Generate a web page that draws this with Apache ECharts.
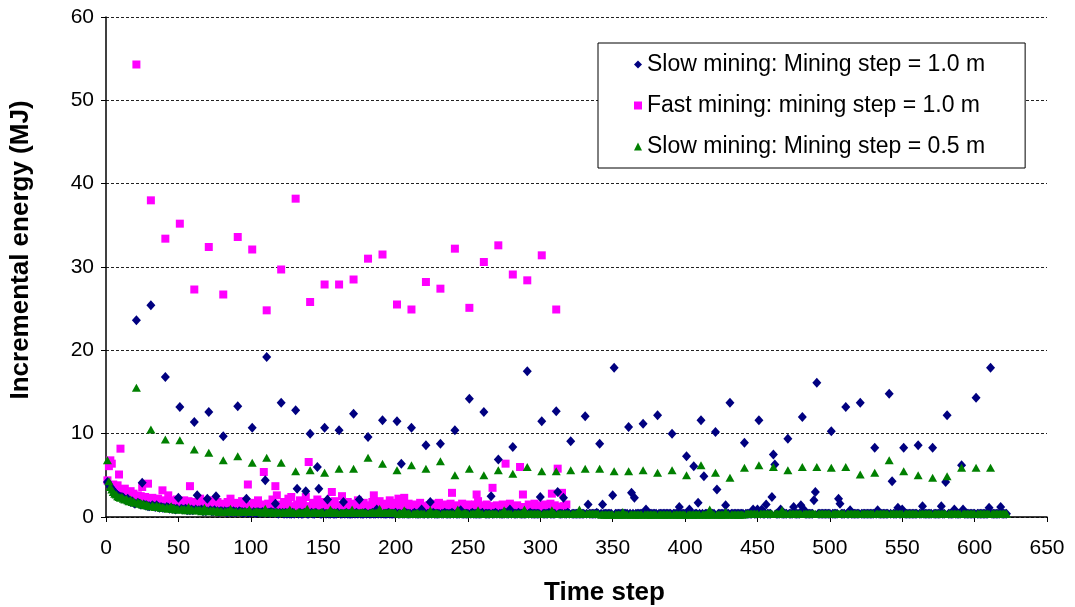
<!DOCTYPE html>
<html>
<head>
<meta charset="utf-8">
<title>Incremental energy per time step</title>
<script src="https://cdn.jsdelivr.net/npm/echarts@6/dist/echarts.min.js"></script>
<style>
  html, body { margin: 0; padding: 0; background: #fff; }
  #chart { width: 1075px; height: 607px; }
</style>
</head>
<body>
<div id="chart"></div>
<script>
// Incremental energy (MJ) at each time step, starting from step 1.
const seriesNames = [
  'Slow mining: Mining step = 1.0 m',
  'Fast mining: mining step = 1.0 m',
  'Slow mining: Mining step = 0.5 m'
];

const slowStep10 = [
  4.2,3.9,3.6,3.4,3.1,2.9,2.8,2.6,2.5,2.4,
  2.4,2.3,2.1,2.0,2.2,1.9,1.8,1.9,1.7,1.6,
  23.6,1.7,1.6,1.5,4.1,1.5,1.4,1.4,1.3,1.3,
  25.4,1.4,1.3,1.2,1.4,1.2,1.1,1.2,1.1,1.1,
  16.8,1.2,1.1,1.0,1.1,1.0,1.0,0.9,1.0,2.3,
  13.2,1.0,0.9,0.9,1.0,0.8,0.9,0.8,0.9,0.8,
  11.4,0.9,2.6,0.8,0.8,0.9,0.7,0.8,0.7,2.2,
  12.6,0.8,0.7,0.7,0.8,2.5,0.7,0.6,0.7,0.7,
  9.7,0.7,0.6,0.6,0.7,0.6,0.6,0.7,0.6,0.6,
  13.3,0.7,0.6,0.6,0.5,0.6,2.2,0.5,0.6,0.5,
  10.7,0.6,0.5,0.5,0.6,0.5,0.5,0.6,0.5,4.4,
  19.2,0.5,0.5,0.6,0.5,0.5,1.6,0.5,0.4,0.5,
  13.7,0.5,0.4,0.5,0.4,0.5,0.4,0.4,0.5,0.4,
  12.8,3.4,0.4,0.5,0.4,0.4,0.5,3.1,0.4,0.4,
  10.0,0.5,0.4,0.4,0.5,6.0,3.4,0.4,0.4,0.5,
  10.7,0.4,2.1,0.4,0.4,0.5,0.4,0.4,0.4,0.5,
  10.4,0.4,0.4,1.8,0.4,0.5,0.4,0.4,0.4,0.4,
  12.4,0.4,0.5,0.4,2.1,0.4,0.4,0.4,0.5,0.4,
  9.6,0.4,0.4,0.5,0.4,0.4,0.9,0.4,0.5,0.4,
  11.6,0.4,0.4,0.4,0.5,0.4,0.4,0.4,0.4,0.5,
  11.5,0.4,0.4,6.4,0.4,0.4,0.5,0.4,0.4,0.4,
  10.7,0.4,0.5,0.4,0.4,0.4,0.4,0.9,0.4,0.4,
  8.6,0.4,0.4,1.8,0.4,0.5,0.4,0.4,0.4,0.4,
  8.8,0.4,0.4,0.5,0.4,0.4,0.4,0.4,0.5,0.4,
  10.4,0.4,0.4,0.4,0.8,0.4,0.4,0.4,0.4,0.4,
  14.2,0.4,0.5,0.4,0.4,0.4,0.4,0.4,0.4,0.5,
  12.6,0.4,0.4,0.4,0.4,2.5,0.4,0.4,0.5,0.4,
  6.9,0.4,0.4,0.4,0.4,0.5,0.4,0.4,0.9,0.4,
  8.4,0.4,0.4,0.4,0.5,0.4,0.4,0.4,0.4,0.4,
  17.5,0.4,0.5,0.4,0.4,0.4,0.4,0.4,0.4,2.4,
  11.5,0.4,0.4,0.4,0.4,0.5,0.4,0.4,0.4,0.4,
  12.7,3.0,0.4,0.4,0.4,2.3,0.4,0.4,0.5,0.4,
  9.1,0.4,0.4,0.4,0.4,0.4,0.4,0.4,0.4,0.4,
  12.1,0.4,1.5,0.4,0.4,0.4,0.4,0.4,0.5,0.4,
  8.8,0.4,1.5,0.4,0.4,0.4,0.4,0.4,0.4,2.6,
  17.9,0.4,0.4,0.4,0.4,0.4,0.4,0.4,0.4,0.4,
  10.8,0.4,2.9,0.4,2.3,0.4,0.4,0.4,0.4,0.4,
  11.2,0.4,0.9,0.4,0.4,0.4,0.4,0.4,0.4,0.4,
  12.2,0.4,0.4,0.4,0.4,0.4,0.4,0.4,0.4,0.4,
  10.0,0.4,0.4,0.4,0.4,1.2,0.4,0.4,0.4,0.4,
  7.3,0.4,0.9,0.4,0.4,6.1,0.4,0.4,1.7,0.4,
  11.6,0.4,4.9,0.4,0.4,0.4,0.4,0.4,0.4,0.4,
  10.2,3.3,0.4,0.4,0.4,0.4,0.4,1.4,0.4,0.4,
  13.7,0.4,0.4,0.4,0.4,0.4,0.4,0.4,0.4,0.4,
  8.9,0.4,0.4,0.4,0.4,0.4,0.9,0.4,0.4,0.9,
  11.6,0.4,0.9,0.4,0.4,1.5,0.4,0.4,0.4,2.4,
  7.5,6.3,0.4,0.4,0.4,0.9,0.4,0.4,0.4,0.4,
  9.4,0.4,0.4,0.4,1.2,0.4,0.4,0.4,0.4,1.4,
  12.0,0.9,0.4,0.4,0.4,0.4,0.4,0.4,2.0,3.0,
  16.1,0.4,0.4,0.4,0.4,0.4,0.4,0.4,0.4,0.4,
  10.3,0.4,0.4,0.4,0.4,2.2,1.6,0.4,0.4,0.4,
  13.2,0.4,0.4,0.8,0.4,0.4,0.4,0.4,0.4,0.4,
  13.7,0.4,0.4,0.4,0.4,0.4,0.4,0.4,0.4,0.4,
  8.3,0.4,0.8,0.4,0.4,0.4,0.4,0.4,0.4,0.4,
  14.8,0.4,4.3,0.4,0.4,0.4,1.1,0.4,0.4,0.9,
  8.3,0.4,0.4,0.4,0.4,0.4,0.4,0.4,0.4,0.4,
  8.6,0.4,0.4,1.3,0.4,0.4,0.4,0.4,0.4,0.4,
  8.3,0.4,0.4,0.4,0.4,0.4,1.3,0.4,0.4,4.2,
  12.2,0.4,0.4,0.4,0.4,0.9,0.4,0.4,0.4,0.4,
  6.2,0.9,0.4,0.4,0.4,0.4,0.4,0.4,0.4,0.4,
  14.3,0.4,0.4,0.4,0.4,0.4,0.4,0.4,0.4,1.1,
  17.9,0.4,0.4,0.4,0.4,0.4,0.4,1.2,0.4,0.4,
  0.4,0.4
];

const fastStep10 = [
  4.4,6.1,6.8,6.4,3.9,3.6,3.3,3.8,5.1,8.2,
  3.2,2.9,3.4,2.7,3.0,2.6,3.1,2.4,2.8,2.3,
  54.3,2.6,2.2,2.5,3.6,2.1,2.4,2.0,4.0,2.2,
  38.0,2.3,1.9,2.1,1.8,2.2,1.7,2.0,3.2,1.8,
  33.4,1.9,2.6,1.7,2.0,1.6,1.9,1.5,2.1,1.6,
  35.2,1.8,1.5,2.0,1.4,1.7,1.9,3.7,1.5,1.6,
  27.3,1.8,1.4,1.6,2.2,1.3,1.7,1.5,1.9,1.3,
  32.4,1.6,1.3,2.0,1.2,1.5,1.8,1.2,1.6,1.3,
  26.7,1.5,1.2,1.8,1.1,2.2,1.4,1.1,1.7,1.3,
  33.6,1.5,1.1,1.9,1.0,1.6,1.2,3.9,1.4,1.0,
  32.1,1.7,1.0,1.3,2.0,1.1,1.5,1.0,5.4,1.2,
  24.8,1.6,1.0,1.4,2.1,1.0,3.7,2.6,1.2,1.5,
  29.7,1.0,1.8,1.1,1.4,2.2,1.0,2.4,1.3,1.1,
  38.2,1.5,1.0,2.0,1.2,1.6,1.0,2.4,1.3,6.6,
  25.8,1.0,1.7,1.2,1.4,2.1,1.0,1.5,1.1,1.8,
  27.9,1.2,1.0,1.6,1.3,3.0,1.0,1.9,1.2,1.4,
  27.9,1.1,2.5,1.0,1.5,1.2,1.8,1.0,1.4,1.1,
  28.5,1.6,1.0,2.0,1.2,1.4,1.0,1.7,1.2,1.0,
  31.0,1.4,1.1,1.8,2.6,1.0,1.5,1.2,1.9,1.0,
  31.5,1.3,1.0,1.6,1.2,2.0,1.0,1.4,1.1,1.7,
  25.5,2.2,1.0,1.3,1.5,2.3,1.0,1.2,1.6,1.0,
  24.9,1.3,1.0,1.5,1.1,1.4,1.7,1.0,1.3,1.2,
  28.2,1.0,1.4,1.1,1.6,1.0,1.3,1.5,1.0,1.7,
  27.4,1.2,1.0,1.5,1.1,1.3,1.0,1.6,2.9,1.1,
  32.2,1.0,1.4,1.2,1.0,1.6,1.1,1.3,1.0,1.5,
  25.1,1.0,1.3,1.1,1.5,2.7,1.9,1.0,1.4,1.2,
  30.6,1.0,1.5,1.1,1.3,1.0,3.5,1.2,1.0,1.4,
  32.6,1.2,1.0,1.5,1.1,6.4,1.0,1.3,1.6,1.0,
  29.1,1.3,1.0,1.4,1.1,6.0,1.0,2.7,1.2,1.0,
  28.4,1.5,1.0,1.3,1.1,1.6,1.0,1.2,1.4,1.0,
  31.4,1.1,1.5,1.0,1.3,1.2,1.6,2.8,1.0,1.4,
  24.9,5.8,1.0,1.2,2.9,1.3,1.0,1.5
];

const slowStep05 = [
  6.8,4.3,3.6,3.3,3.0,2.8,2.7,2.5,2.4,2.3,
  2.4,2.2,2.1,2.2,2.0,1.9,2.1,1.8,1.9,1.7,
  15.5,1.8,1.6,1.7,1.5,1.6,1.4,1.5,1.4,1.3,
  10.5,1.4,1.3,1.2,1.4,1.2,1.3,1.1,1.2,1.1,
  9.3,1.2,1.0,1.1,1.3,1.0,1.1,0.9,1.0,0.9,
  9.2,1.0,0.9,1.0,0.8,0.9,1.2,0.8,0.9,0.8,
  8.1,0.9,0.8,0.8,0.9,0.7,0.8,1.1,0.7,0.8,
  7.7,0.8,0.7,0.8,0.7,0.7,0.8,0.6,0.7,0.7,
  6.8,0.7,0.6,0.7,0.6,1.0,0.7,0.6,0.6,0.7,
  7.3,0.6,0.7,0.6,0.6,0.7,0.6,0.6,0.9,0.6,
  6.5,0.6,0.6,0.7,0.6,0.6,0.6,0.5,0.6,1.0,
  7.1,0.6,0.5,0.6,0.6,0.5,0.6,0.6,0.5,0.6,
  6.5,0.6,0.5,0.5,0.6,0.5,0.9,0.5,0.5,0.6,
  5.5,0.5,0.6,0.5,0.5,0.5,0.6,0.5,1.0,0.5,
  5.6,0.5,0.5,0.6,0.5,0.5,0.5,0.5,0.6,0.5,
  5.3,0.5,0.5,0.5,0.9,0.5,0.5,0.6,0.5,0.5,
  5.8,0.5,0.5,0.5,0.5,0.6,0.5,0.5,0.5,0.9,
  5.8,0.5,0.5,0.5,0.5,0.5,0.6,0.5,0.5,0.5,
  7.1,0.5,0.5,0.6,0.5,0.5,0.5,0.5,1.0,0.5,
  6.4,0.5,0.5,0.5,0.5,0.6,0.5,0.5,0.5,0.5,
  5.6,0.4,0.5,0.4,0.4,0.8,0.4,0.4,0.5,0.4,
  6.2,0.4,0.4,0.4,0.5,0.4,0.4,0.4,0.4,0.4,
  5.8,0.4,0.4,0.8,0.4,0.4,0.4,0.5,0.4,0.4,
  6.7,0.4,0.4,0.4,0.4,0.4,0.4,0.4,0.4,0.4,
  5.0,0.4,0.9,0.4,0.4,0.4,0.4,0.5,0.4,0.4,
  5.8,0.4,0.4,0.4,0.4,0.4,0.8,0.4,0.4,0.4,
  5.0,0.4,0.4,0.4,0.4,0.4,0.4,0.4,0.4,0.4,
  5.6,0.4,0.4,0.4,0.8,0.4,0.4,0.4,0.4,0.4,
  5.2,0.4,0.4,0.4,0.4,0.4,0.4,0.4,0.9,0.4,
  6.0,0.4,0.4,0.4,0.4,0.4,0.4,0.4,0.4,0.4,
  5.5,0.4,0.4,0.4,0.4,0.4,0.4,0.8,0.4,0.4,
  5.5,0.4,0.4,0.4,0.4,0.4,0.4,0.4,0.4,0.4,
  5.6,0.4,0.4,0.4,0.4,0.4,0.9,0.4,0.4,0.4,
  5.8,0.4,0.4,0.4,0.4,0.4,0.4,0.4,0.4,0.4,
  5.8,0.3,0.3,0.3,0.3,0.3,0.3,0.3,0.3,0.3,
  5.5,0.3,0.3,0.3,0.3,0.3,0.6,0.3,0.3,0.3,
  5.5,0.3,0.3,0.3,0.3,0.3,0.3,0.3,0.3,0.3,
  5.6,0.3,0.3,0.3,0.3,0.3,0.3,0.3,0.3,0.3,
  5.3,0.3,0.3,0.3,0.3,0.3,0.3,0.3,0.3,0.3,
  5.6,0.3,0.3,0.3,0.3,0.3,0.3,0.3,0.3,0.3,
  5.0,0.3,0.3,0.3,0.3,0.3,0.3,0.3,0.3,0.3,
  6.2,0.3,0.3,0.3,0.3,0.3,0.9,0.3,0.3,0.3,
  5.3,0.3,0.3,0.3,0.3,0.3,0.3,0.6,0.3,0.3,
  4.7,0.3,0.3,0.3,0.3,0.3,0.3,0.3,0.3,0.3,
  5.9,0.4,0.4,0.4,0.4,0.4,0.4,0.4,0.4,0.4,
  6.2,0.4,0.4,0.4,0.4,0.4,0.4,0.4,0.4,0.4,
  6.0,0.4,0.4,0.4,0.4,0.4,0.8,0.4,0.4,0.4,
  5.6,0.4,0.4,0.4,0.4,0.4,0.4,0.4,0.4,0.4,
  6.0,0.4,0.4,0.4,0.4,0.4,0.4,0.4,0.4,0.4,
  6.0,0.4,0.4,0.4,0.4,0.4,0.4,0.4,0.4,0.4,
  5.9,0.4,0.4,0.4,0.4,0.4,0.4,0.4,0.4,0.4,
  6.0,0.4,0.4,0.4,0.4,0.4,0.4,0.4,0.4,0.4,
  5.1,0.4,0.4,0.4,0.4,0.4,0.4,0.4,0.4,0.4,
  5.3,0.4,0.4,0.4,0.4,0.4,0.4,0.4,0.4,0.4,
  6.8,0.4,0.4,0.4,0.4,0.4,0.4,0.4,0.4,0.4,
  5.5,0.4,0.4,0.4,0.4,0.4,0.4,0.4,0.4,0.4,
  5.0,0.4,0.4,0.4,0.4,0.4,0.4,0.4,0.4,0.4,
  4.7,0.4,0.4,0.4,0.4,0.4,0.4,0.4,0.4,0.4,
  4.9,0.4,0.4,0.4,0.4,0.4,0.4,0.4,0.4,0.4,
  5.9,0.4,0.4,0.4,0.4,0.4,0.4,0.4,0.4,0.4,
  5.9,0.4,0.4,0.4,0.4,0.4,0.4,0.4,0.4,0.4,
  5.9,0.4,0.4,0.4,0.4,0.4,0.4,0.4,0.4,0.4,
  0.4,0.4
];

const xTickStep = 50;
const yTickStep = 10;

// pair each value with its time step (1, 2, 3, ...)
const toPoints = arr => arr.map((v, i) => [i + 1, v]);

const FONT = 'Liberation Sans, Arial, sans-serif';

const chart = echarts.init(document.getElementById('chart'), null, { renderer: 'canvas' });

chart.setOption({
  animation: false,
  backgroundColor: '#ffffff',
  textStyle: { fontFamily: FONT, color: '#000' },
  grid: { left: 106, right: 28, top: 17, bottom: 90, containLabel: false, outerBoundsMode: 'none' },
  legend: {
    orient: 'vertical',
    left: 598,
    top: 43,
    padding: [10, 40, 10, 36],
    itemGap: 18,
    itemWidth: 8,
    itemHeight: 8,
    borderColor: '#000',
    borderWidth: 1,
    backgroundColor: '#fff',
    textStyle: { fontFamily: FONT, fontSize: 23, color: '#000' },
    data: [
      { name: seriesNames[0], icon: 'diamond' },
      { name: seriesNames[1], icon: 'rect' },
      { name: seriesNames[2], icon: 'triangle' }
    ]
  },
  xAxis: {
    type: 'value',
    min: 0,
    max: 650,
    interval: xTickStep,
    name: 'Time step',
    nameLocation: 'middle',
    nameGap: 63,
    nameTextStyle: {
      fontFamily: FONT, fontSize: 26, fontWeight: 'bold', color: '#000',
      padding: [0, 0, 0, 56]
    },
    axisLine: { show: true, onZero: false, lineStyle: { color: '#000', width: 1.5 } },
    axisTick: { show: true, inside: false, length: 5, lineStyle: { color: '#000', width: 1 } },
    axisLabel: { fontFamily: FONT, fontSize: 21, color: '#000', margin: 21 },
    splitLine: { show: false }
  },
  yAxis: {
    type: 'value',
    min: 0,
    max: 60,
    interval: yTickStep,
    name: 'Incremental energy (MJ)',
    nameLocation: 'middle',
    nameGap: 72,
    nameTextStyle: {
      fontFamily: FONT, fontSize: 26, fontWeight: 'bold', color: '#000',
      padding: [0, 0, 0, 34]
    },
    axisLine: { show: true, lineStyle: { color: '#000', width: 1.5 } },
    axisTick: { show: true, inside: false, length: 5, lineStyle: { color: '#000', width: 1 } },
    axisLabel: { fontFamily: FONT, fontSize: 21, color: '#000', margin: 12 },
    splitLine: { show: true, lineStyle: { color: '#222', width: 1, type: [3, 2] } }
  },
  series: [
    {
      name: seriesNames[0],
      type: 'scatter',
      z: 3,
      symbol: 'diamond',
      symbolSize: [9, 10],
      itemStyle: { color: '#000080', opacity: 1 },
      data: toPoints(slowStep10)
    },
    {
      name: seriesNames[1],
      type: 'scatter',
      z: 2,
      symbol: 'rect',
      symbolSize: 8,
      itemStyle: { color: '#ff00ff', opacity: 1 },
      data: toPoints(fastStep10)
    },
    {
      name: seriesNames[2],
      type: 'scatter',
      z: 4,
      symbol: 'triangle',
      symbolSize: [9, 8],
      itemStyle: { color: '#008000', opacity: 1 },
      data: toPoints(slowStep05)
    }
  ]
});
</script>
</body>
</html>
